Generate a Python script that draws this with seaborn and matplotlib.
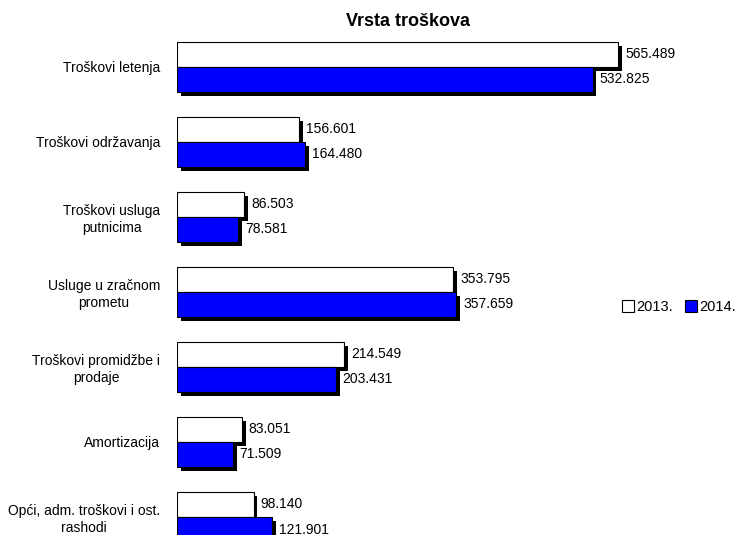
import matplotlib
matplotlib.use("Agg")
from matplotlib import pyplot as plt
from matplotlib import patheffects
from matplotlib.patches import Patch
import seaborn as sns
import pandas as pd

categories = [
    "Troškovi letenja",
    "Troškovi održavanja",
    "Troškovi usluga\nputnicima",
    "Usluge u zračnom\nprometu",
    "Troškovi promidžbe i\nprodaje",
    "Amortizacija",
    "Opći, adm. troškovi i ost.\nrashodi",
]
years = ["2013.", "2014."]
values_2013 = [565489, 156601, 86503, 353795, 214549, 83051, 98140]
values_2014 = [532825, 164480, 78581, 357659, 203431, 71509, 121901]

df = pd.DataFrame({
    "Vrsta": categories * 2,
    "Godina": [years[0]] * len(categories) + [years[1]] * len(categories),
    "Iznos": values_2013 + values_2014,
})

sns.set_style("white")
plt.rcParams["font.family"] = ["Liberation Sans", "DejaVu Sans"]
plt.rcParams["text.color"] = "black"
plt.rcParams["ytick.color"] = "black"

fig = plt.figure(figsize=(7.39, 5.35), dpi=100)
ax = fig.add_axes([177 / 739, 0.0, 562 / 739, 1 - 30 / 535])

colors = ["white", "#0000ff"]
sns.barplot(data=df, x="Iznos", y="Vrsta", hue="Godina", orient="h",
            palette=colors, saturation=1, edgecolor="black", linewidth=0.8,
            width=0.667, legend=False, ax=ax)

# black drop shadow under every bar
shadow = [patheffects.SimplePatchShadow(offset=(2.8, -2.8), shadow_rgbFace="black", alpha=1.0),
          patheffects.Normal()]
for p in ax.patches:
    p.set_path_effects(shadow)

for cont, vals in zip(ax.containers, [values_2013, values_2014]):
    labels = [f"{v:,}".replace(",", ".") for v in vals]
    ax.bar_label(cont, labels=labels, padding=5, fontsize=10, color="black")

ax.set_xlim(0, 720500)
ax.set_ylim(6.24, -0.49)
ax.set_xticks([])
ax.set_xlabel("")
ax.set_ylabel("")
ax.set_yticks(range(len(categories)))
ax.set_yticklabels(categories, multialignment="center", color="black", fontsize=10)
for s in ax.spines.values():
    s.set_visible(False)
ax.tick_params(axis="y", length=0, pad=12)

fig.text(408 / 739, 1 - 22 / 535, "Vrsta troškova", ha="center", va="center",
         fontsize=13, fontweight="bold")

handles = [Patch(facecolor=c, edgecolor="black", linewidth=0.8) for c in colors]
fig.legend(handles, years, loc="center", bbox_to_anchor=(679 / 739, 1 - 307 / 535),
           ncol=2, frameon=False, fontsize=10.5, handlelength=0.8, handleheight=0.8,
           handletextpad=0.2, columnspacing=0.8)

fig.savefig("out.png", dpi=100)
